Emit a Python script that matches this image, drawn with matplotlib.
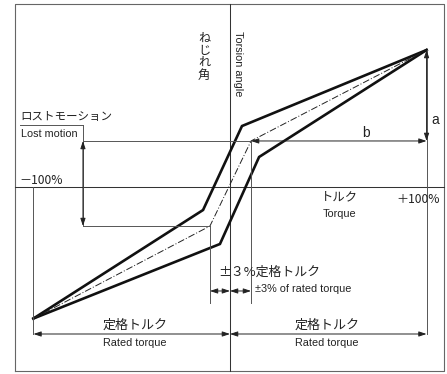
import matplotlib
matplotlib.use("Agg")
import matplotlib.pyplot as plt
from matplotlib import font_manager

# ---------------- data (torque in % of rated, torsion angle in arbitrary %) -------------
torque_limits = [-100, 100]
angle_limits = [-96, 100]

upper_torque = [-100, -13.7, 6.1, 100]
upper_angle = [-96, -16.8, 44.5, 100]
lower_torque = [-100, -5.1, 14.8, 100]
lower_angle = [-96, -41.6, 21.9, 100]
mid_torque = [-100, -10.2, 10.7, 100]
mid_angle = [-96, -28.5, 33.6, 100]

lost_motion_levels = [mid_angle[2], mid_angle[1]]   # upper / lower
pm3_torque = [mid_torque[1], mid_torque[2]]          # +-3% rated torque positions

labels_jp = {"angle": "ねじれ角", "lost": "ロストモーション", "torque": "トルク",
             "pm3": "±３%定格トルク", "rated": "定格トルク"}
labels_en = {"angle": "Torsion angle", "lost": "Lost motion", "torque": "Torque",
             "pm3": "±3% of rated torque", "rated": "Rated torque"}
tick_labels = ["－100%", "＋100%"]

# ---------------- fonts ----------------
avail = {f.name for f in font_manager.fontManager.ttflist}
jp_font = ["Noto Sans CJK JP", "DejaVu Sans"]
if "Liberation Sans Narrow" in avail:
    en_font = ["Liberation Sans Narrow", "DejaVu Sans"]
    en_size = 8.6
else:
    en_font = ["Liberation Sans", "DejaVu Sans"]
    en_size = 7.8

# ---------------- figure ----------------
fig = plt.figure(figsize=(4.47, 3.74), dpi=100)
ax = fig.add_axes([0, 0, 1, 1])
ax.set_xlim(-117.0, 110.4)
ax.set_ylim(-136.5, 136.5)
ax.axis("off")

thin = dict(color="#333333", lw=0.75)
gray = dict(color="#555555", lw=0.7)

# frame
fx0, fx1, fy0, fy1 = -109.4, 108.9, -134.3, 133.6
ax.plot([fx0, fx1, fx1, fx0, fx0], [fy0, fy0, fy1, fy1, fy0], color="#666666", lw=0.8)
# axes
ax.plot([0, 0], [fy0, fy1], **thin)
ax.plot([fx0, fx1], [0, 0], **thin)

# curves
ax.plot(upper_torque, upper_angle, color="#111111", lw=1.9, solid_joinstyle="miter")
ax.plot(lower_torque, lower_angle, color="#111111", lw=1.9, solid_joinstyle="miter")
ax.plot(mid_torque, mid_angle, color="#222222", lw=0.7, dashes=(7, 2, 1, 2))

# lost motion guides
lm_x = -74.8
ax.plot([lm_x, pm3_torque[1]], [lost_motion_levels[0]] * 2, **gray)
ax.plot([lm_x, pm3_torque[0]], [lost_motion_levels[1]] * 2, **gray)
ax.plot([lm_x, lm_x], [45.3, lost_motion_levels[1]], **gray)
ax.plot([-106.9, lm_x], [45.3, 45.3], **gray)

# vertical guides at +-100%
rated_y = -107.3
ax.plot([torque_limits[0]] * 2, [0, rated_y], **gray)
ax.plot([torque_limits[1]] * 2, [angle_limits[1], rated_y], **gray)
# +-3% verticals
ax.plot([pm3_torque[0]] * 2, [lost_motion_levels[1], -84.7], **gray)
ax.plot([pm3_torque[1]] * 2, [lost_motion_levels[0], -84.7], **gray)

def darrow(x0, y0, x1, y1):
    ax.annotate("", xy=(x1, y1), xytext=(x0, y0),
                arrowprops=dict(arrowstyle="<|-|>,head_length=0.45,head_width=0.15",
                                color="#222222", lw=0.7, shrinkA=0, shrinkB=0))

darrow(lm_x, lost_motion_levels[0], lm_x, lost_motion_levels[1])
darrow(torque_limits[1], angle_limits[1], torque_limits[1], lost_motion_levels[0])
darrow(pm3_torque[1], lost_motion_levels[0], torque_limits[1], lost_motion_levels[0])
darrow(torque_limits[0], rated_y, 0, rated_y)
darrow(0, rated_y, torque_limits[1], rated_y)
darrow(pm3_torque[0], -75.9, 0, -75.9)
darrow(0, -75.9, pm3_torque[1], -75.9)

# ---------------- texts ----------------
tc = "#222222"
ax.text(-13.2, 113.2, "\n".join(labels_jp["angle"]), family=jp_font, fontsize=8.8,
        ha="center", va="top", linespacing=0.92, color=tc)
ax.text(4.1, 90.1, labels_en["angle"], family=en_font, fontsize=en_size, rotation=270,
        ha="center", va="center", color=tc)
ax.text(-106.4, 51.1, labels_jp["lost"], family=jp_font, fontsize=8.3,
        ha="left", va="center", color=tc)
ax.text(-106.4, 38.7, labels_en["lost"], family=en_font, fontsize=en_size,
        ha="left", va="center", color=tc)
ax.text(-106.9, 5.1, tick_labels[0], family=jp_font, fontsize=8.7,
        ha="left", va="center", color=tc)
ax.text(95.7, -8.8, tick_labels[1], family=jp_font, fontsize=8.7,
        ha="center", va="center", color=tc)
ax.text(55.5, -7.3, labels_jp["torque"], family=jp_font, fontsize=8.9,
        ha="center", va="center", color=tc)
ax.text(55.5, -19.7, labels_en["torque"], family=en_font, fontsize=en_size,
        ha="center", va="center", color=tc)
ax.text(-6.1, -62.0, labels_jp["pm3"], family=jp_font, fontsize=9.3,
        ha="left", va="center", color=tc)
ax.text(12.7, -74.5, labels_en["pm3"], family=en_font, fontsize=en_size,
        ha="left", va="center", color=tc)
for cx in (-48.3, 49.4):
    ax.text(cx, -100.7, labels_jp["rated"], family=jp_font, fontsize=9.4,
            ha="center", va="center", color=tc)
    ax.text(cx, -113.9, labels_en["rated"], family=en_font, fontsize=en_size,
            ha="center", va="center", color=tc)
ax.text(104.3, 48.9, "a", family=en_font, fontsize=10, ha="center", va="center", color=tc)
ax.text(69.2, 39.4, "b", family=en_font, fontsize=10, ha="center", va="center", color=tc)

fig.savefig("out.png", dpi=100)
